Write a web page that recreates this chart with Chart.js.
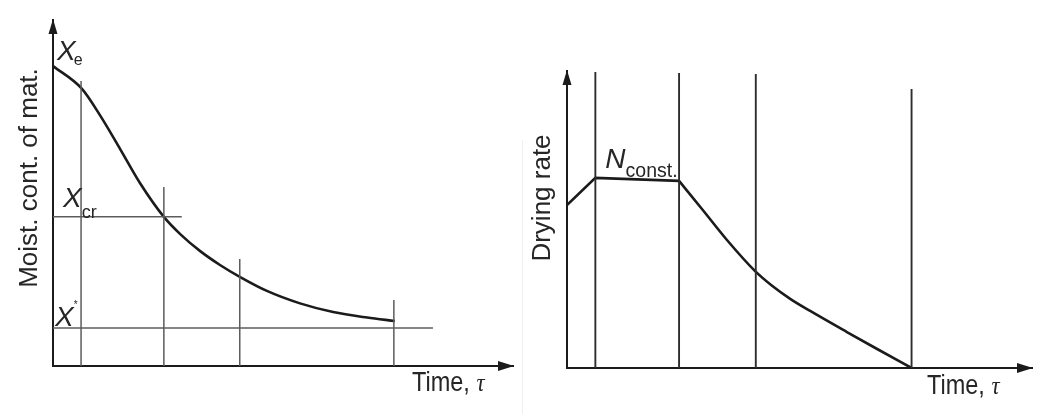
<!DOCTYPE html>
<html>
<head>
<meta charset="utf-8">
<script src="https://cdn.jsdelivr.net/npm/chart.js@4.4.1/dist/chart.umd.min.js"></script>
<style>
  html, body { margin: 0; padding: 0; background: #fff; }
  #wrap { position: relative; width: 1062px; height: 414px; overflow: hidden; }
  .panel { position: absolute; top: 0; height: 414px; }
  #left { left: 0; width: 530px; }
  #right { left: 530px; width: 532px; }
  .sep { position: absolute; left: 522px; top: 140px; width: 1px; height: 274px; background: #efefef; }
</style>
</head>
<body>
<div id="wrap">
  <div class="panel" id="left"><canvas id="c-left" width="530" height="414"></canvas></div>
  <div class="sep"></div>
  <div class="panel" id="right"><canvas id="c-right" width="532" height="414"></canvas></div>
</div>
<script>
// time in arbitrary units, 0..100 (100 = arrow tip); same stage marks on both panels
const tauMarks = [6.1, 24.1, 40.6, 74.1];

// left panel: moisture content of material vs time
const moistTau = [0, 6.3, 10.2, 14.6, 18.9, 24.1, 27.6, 32.0, 36.3, 40.7, 46.5, 53.7, 60.9, 68.3, 74.3];
const moistX   = [86.7, 80.1, 72.5, 62.7, 52.9, 43.1, 38.2, 33.2, 29.2, 25.7, 21.7, 18.1, 15.6, 14.0, 13.0];
const moistMarkTops = [82.4, 51.7, 30.9, 19.1];
const xCrit = 43.1, xCritEnd = 28.0;   // X_cr
const xEq = 11.0, xEqEnd = 82.6;       // X*

// right panel: drying rate vs time
const rateTauRise = [0, 6.1, 24.1];
const rateRise    = [54.9, 64.0, 63.0];
const rateTauFall = [24.1, 29.2, 34.4, 40.4, 44.1, 48.0, 52.3, 60.2, 66.7, 74.1];
const rateFall    = [63.0, 53.2, 43.1, 32.7, 27.7, 23.3, 19.2, 12.1, 6.4, 0];
const rateMarkTops = [99.7, 99.3, 99.0, 93.9];

const INK = '#1b1b1b';
const SANS = '"Liberation Sans", Arial, sans-serif';

function zip(xs, ys) { return xs.map((x, i) => ({ x: x, y: ys[i] })); }

function seg(x0, y0, x1, y1, color, width) {
  return { data: [{ x: x0, y: y0 }, { x: x1, y: y1 }], borderColor: color, borderWidth: width,
           pointRadius: 0, showLine: true, tension: 0, fill: false };
}

function axes() {
  const ax = {
    type: 'linear', min: 0, max: 100,
    grid: { display: false, drawTicks: false },
    ticks: { display: false },
    border: { display: true, color: INK, width: 2 }
  };
  return { x: Object.assign({}, ax), y: Object.assign({}, ax) };
}

const axisArrows = {
  id: 'axisArrows',
  afterDraw(chart) {
    const { ctx, chartArea: a } = chart;
    ctx.save();
    ctx.fillStyle = INK;
    ctx.beginPath();
    ctx.moveTo(a.right + 1, a.bottom);
    ctx.lineTo(a.right - 15, a.bottom - 5);
    ctx.lineTo(a.right - 15, a.bottom + 5);
    ctx.closePath();
    ctx.fill();
    ctx.beginPath();
    ctx.moveTo(a.left, a.top - 1);
    ctx.lineTo(a.left - 4.5, a.top + 14);
    ctx.lineTo(a.left + 4.5, a.top + 14);
    ctx.closePath();
    ctx.fill();
    ctx.restore();
  }
};

function put(ctx, s, x, y, font) {
  ctx.font = font;
  ctx.fillText(s, x, y);
  return ctx.measureText(s).width;
}

function vtitle(ctx, s, x, y, font) {
  ctx.save();
  ctx.translate(x, y);
  ctx.rotate(-Math.PI / 2);
  ctx.textAlign = 'center';
  ctx.font = font;
  ctx.fillText(s, 0, 0);
  ctx.restore();
}

function timeLabel(ctx, x, y) {
  ctx.save();
  ctx.translate(x, y);
  ctx.scale(0.87, 1);
  const w = put(ctx, 'Time, ', 0, 0, '27px ' + SANS);
  put(ctx, 'τ', w, 0, 'italic 26px "Liberation Serif", serif');
  ctx.restore();
}

const leftText = {
  id: 'leftText',
  afterDraw(chart) {
    const { ctx, scales: { x, y }, chartArea: a } = chart;
    ctx.save();
    ctx.fillStyle = '#262626';
    const x0 = x.getPixelForValue(0);
    let yp = y.getPixelForValue(moistX[0]);
    let w = put(ctx, 'X', x0 + 4, yp - 6, 'italic 28px ' + SANS);
    put(ctx, 'e', x0 + 2 + w, yp - 1, '16px ' + SANS);
    yp = y.getPixelForValue(xCrit);
    w = put(ctx, 'X', x0 + 10, yp - 10, 'italic 28px ' + SANS);
    put(ctx, 'cr', x0 + 10 + w, yp + 1, '18px ' + SANS);
    yp = y.getPixelForValue(xEq);
    w = put(ctx, 'X', x0 + 2, yp - 2, 'italic 28px ' + SANS);
    put(ctx, '*', x0 + 2 + w, yp - 20, '10px ' + SANS);
    vtitle(ctx, 'Moist. cont. of mat.', 37, 178, '26px ' + SANS);
    timeLabel(ctx, a.right - 101, a.bottom + 25);
    ctx.restore();
  }
};

const rightText = {
  id: 'rightText',
  afterDraw(chart) {
    const { ctx, scales: { x, y }, chartArea: a } = chart;
    ctx.save();
    ctx.fillStyle = '#262626';
    const xp = x.getPixelForValue(tauMarks[0]);
    const yp = y.getPixelForValue(rateRise[1]);
    const w = put(ctx, 'N', xp + 10, yp - 10, 'italic 28px ' + SANS);
    put(ctx, 'const.', xp + 10 + w, yp - 1, '19.5px ' + SANS);
    vtitle(ctx, 'Drying rate', 20, 198, '26px ' + SANS);
    timeLabel(ctx, a.right - 105, a.bottom + 26);
    ctx.restore();
  }
};

function baseOptions(padding) {
  return {
    responsive: false,
    animation: false,
    events: [],
    layout: { padding: padding },
    plugins: { legend: { display: false }, tooltip: { enabled: false } },
    scales: axes()
  };
}

// left chart
const leftSets = [];
tauMarks.forEach((t, i) => leftSets.push(seg(t, 0, t, moistMarkTops[i], '#5c5c5c', 1.5)));
leftSets.push(seg(0, xCrit, xCritEnd, xCrit, '#5c5c5c', 1.5));
leftSets.push(seg(0, xEq, xEqEnd, xEq, '#5c5c5c', 1.5));
leftSets.push({
  data: zip(moistTau, moistX), borderColor: INK, borderWidth: 2.6, pointRadius: 0,
  showLine: true, cubicInterpolationMode: 'monotone', fill: false
});

new Chart(document.getElementById('c-left'), {
  type: 'scatter',
  data: { datasets: leftSets },
  options: baseOptions({ left: 53, top: 20, right: 17, bottom: 48 }),
  plugins: [axisArrows, leftText]
});

// right chart
const rightSets = [];
tauMarks.forEach((t, i) => rightSets.push(seg(t, 0, t, rateMarkTops[i], '#2e2e2e', 1.9)));
rightSets.push({
  data: zip(rateTauRise, rateRise), borderColor: INK, borderWidth: 2.6, pointRadius: 0,
  showLine: true, tension: 0, fill: false
});
rightSets.push({
  data: zip(rateTauFall, rateFall), borderColor: INK, borderWidth: 2.6, pointRadius: 0,
  showLine: true, cubicInterpolationMode: 'monotone', fill: false
});

new Chart(document.getElementById('c-right'), {
  type: 'scatter',
  data: { datasets: rightSets },
  options: baseOptions({ left: 37, top: 71, right: 30, bottom: 46 }),
  plugins: [axisArrows, rightText]
});
</script>
</body>
</html>
